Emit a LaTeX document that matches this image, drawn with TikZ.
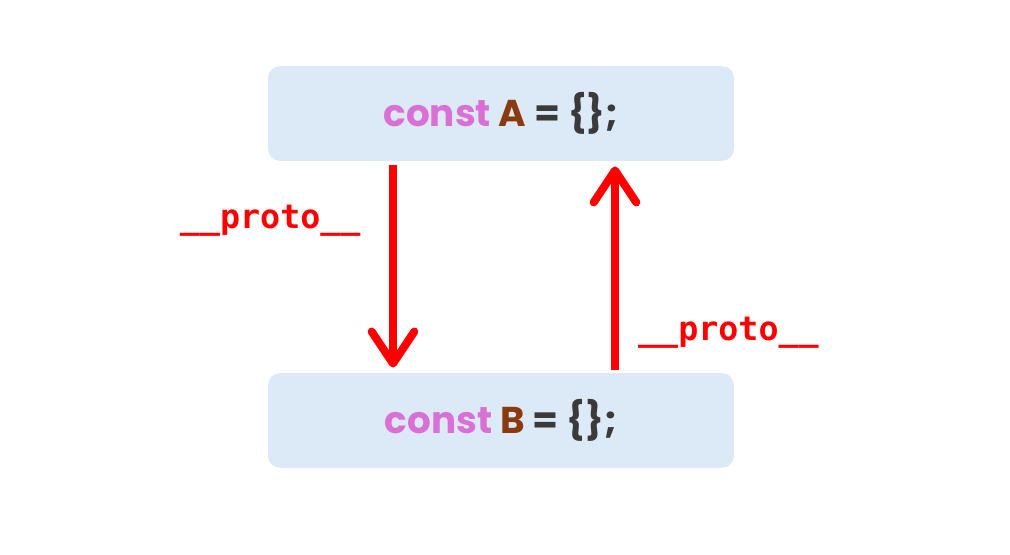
\documentclass[tikz,border=0pt]{standalone}
\usepackage{fontspec}
\setmainfont{Poppins}
\newfontfamily\protofont{DejaVu Sans Mono}
\usetikzlibrary{arrows.meta}
\definecolor{boxblue}{HTML}{DCE9F6}
\definecolor{kwpink}{HTML}{DA70D6}
\definecolor{namebrown}{HTML}{8B3A0F}
\definecolor{codegray}{HTML}{3A3A3A}
\tikzset{
  objbox/.style={fill=boxblue, rounded corners=9pt, minimum width=349.5pt, minimum height=71pt, inner sep=0pt,
    font=\fontsize{28}{30}\selectfont\bfseries, text=codegray},
  protoarrow/.style={red, line width=6pt, -{Straight Barb[length=24pt,width=32pt,round]}},
  protolabel/.style={text=red, font=\protofont\bfseries\fontsize{25}{27}\selectfont}
}
\newcommand{\kw}[1]{\textcolor{kwpink}{#1}}
\newcommand{\objname}[1]{\textcolor{namebrown}{#1}}
\begin{document}
\begin{tikzpicture}[x=0.75pt,y=-0.75pt]
	\useasboundingbox (0,0) rectangle (1010,554);
	\node[objbox] (objA) at (501,113.5) {\kw{const} \objname{A} = \{\};};
	\node[objbox] (objB) at (501,420.5) {\kw{const} \objname{B} = \{\};};
	\draw[protoarrow, shorten <=3pt, shorten >=4pt] ([xshift=-81pt]objA.south) -- ([xshift=-81pt]objB.north)
		node[protolabel, pos=0.28, left=18pt] (protoAB) {\_\_proto\_\_};
	\draw[protoarrow, shorten <=2pt, shorten >=4pt] ([xshift=85.5pt]objB.north) -- ([xshift=85.5pt]objA.south)
		node[protolabel, pos=0.19, right=11pt] (protoBA) {\_\_proto\_\_};
\end{tikzpicture}
\end{document}
